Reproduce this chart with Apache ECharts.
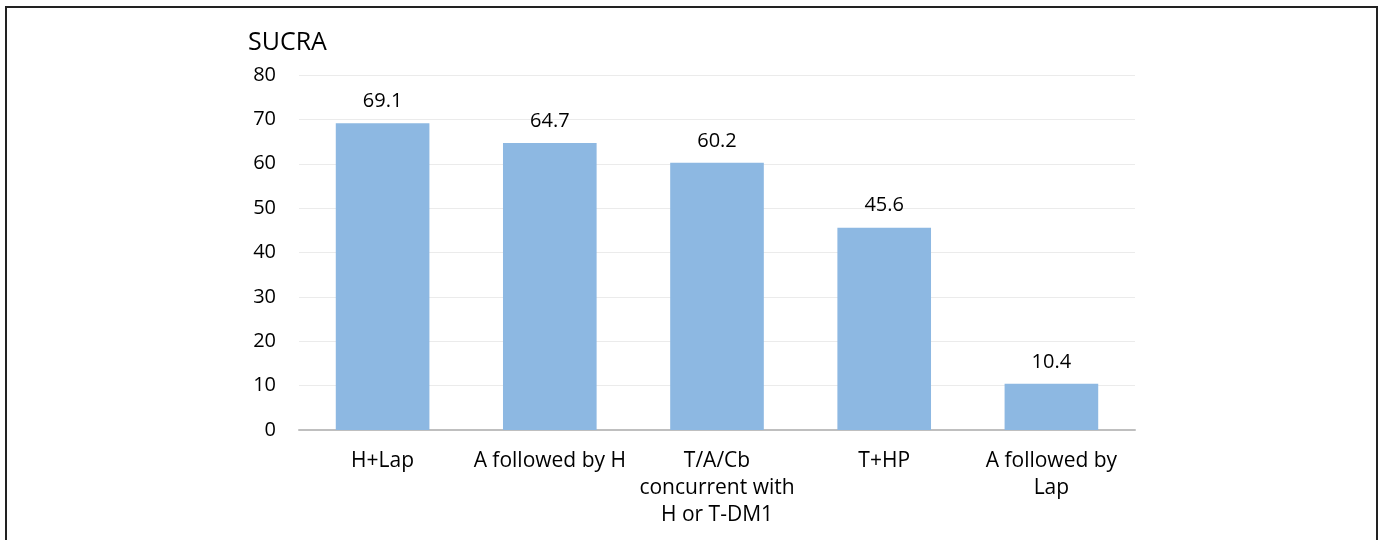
<!DOCTYPE html>
<html>
<head>
    <meta charset="utf-8">
    <title>SUCRA</title>
    <script src="https://cdn.jsdelivr.net/npm/echarts@6/dist/echarts.min.js"></script>
    <style>
        body { margin: 0; overflow: hidden; background: #fff; }
        #frame { position: absolute; left: 5px; top: 6px; width: 1369px; height: 600px; border: 2px solid #222; }
    </style>
</head>
<body>
    <div id="main" style="width:1381px;height:540px;"></div>
    <div id="frame"></div>
    <script type="text/javascript">
        // 数据
        var categories = ['H+Lap', 'A followed by H', 'T/A/Cb\nconcurrent with\nH or T-DM1', 'T+HP', 'A followed by\nLap'];
        var sucraValues = [69.1, 64.7, 60.2, 45.6, 10.4];
        var yTicks = [0, 10, 20, 30, 40, 50, 60, 70, 80];

        var font = '"Open Sans", Lato, sans-serif';
        var myChart = echarts.init(document.getElementById('main'));

        var option = {
            animation: false,
            title: {
                text: 'SUCRA',
                left: 243,
                top: 25,
                textStyle: { fontFamily: font, fontSize: 25, fontWeight: 'normal', color: '#000' }
            },
            grid: { left: 299, right: 246, top: 75, bottom: 110, containLabel: false },
            xAxis: {
                type: 'category',
                data: categories,
                axisTick: { show: false },
                axisLine: { lineStyle: { color: '#bfbfbf', width: 2 } },
                axisLabel: {
                    interval: 0,
                    margin: 18,
                    lineHeight: 27,
                    fontFamily: font,
                    fontSize: 21,
                    color: '#000'
                }
            },
            yAxis: {
                type: 'value',
                min: yTicks[0],
                max: yTicks[yTicks.length - 1],
                interval: 10,
                axisLine: { show: false },
                axisTick: { show: false },
                splitLine: { lineStyle: { color: '#ebebeb', width: 1 } },
                axisLabel: { margin: 23, fontFamily: font, fontSize: 20, color: '#000' }
            },
            series: [{
                type: 'bar',
                data: sucraValues,
                barWidth: '56%',
                itemStyle: { color: '#8db8e2' },
                label: {
                    show: true,
                    position: 'top',
                    distance: 12,
                    fontFamily: font,
                    fontSize: 20,
                    color: '#000',
                    formatter: function (p) { return p.value.toFixed(1); }
                }
            }]
        };
        myChart.setOption(option);
    </script>
</body>
</html>
